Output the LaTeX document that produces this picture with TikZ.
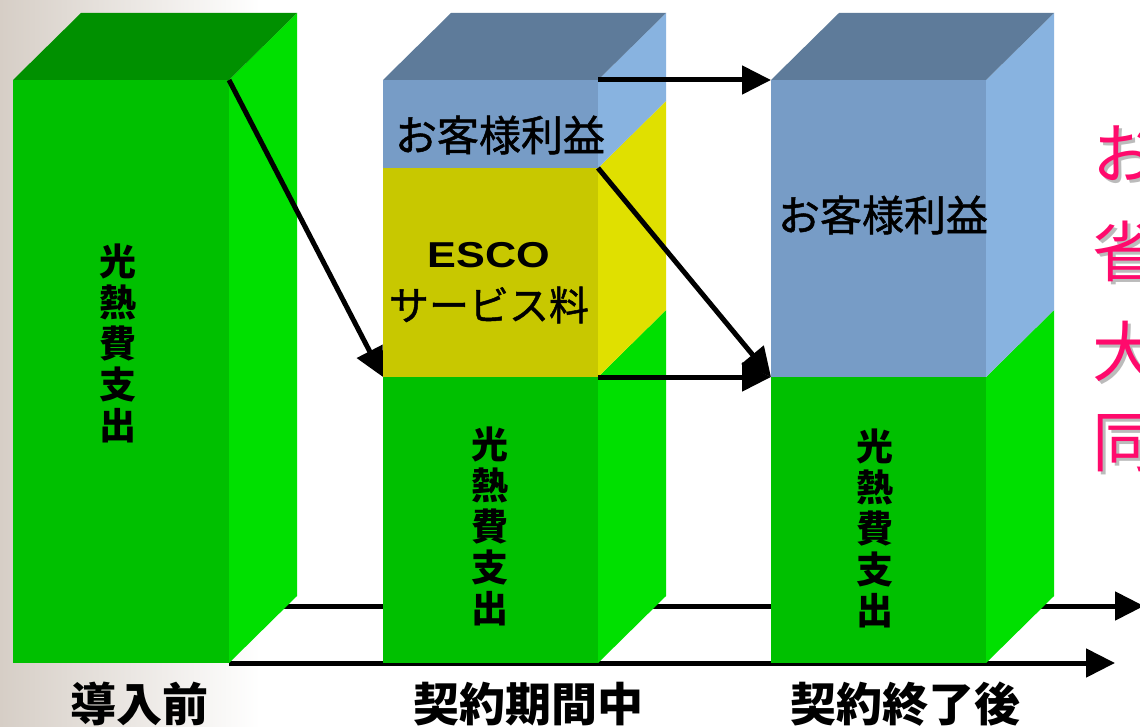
\documentclass[tikz,border=0pt]{standalone}
\usepackage{fontspec}
\setmainfont{Liberation Sans}
\newfontfamily\jp{Noto Sans CJK JP}
\newfontfamily\jpm{Noto Sans CJK JP}[FakeBold=1.2]
\usetikzlibrary{arrows.meta}
\definecolor{gFront}{HTML}{00C000}
\definecolor{gSide}{HTML}{00E000}
\definecolor{gTop}{HTML}{009000}
\definecolor{bFront}{HTML}{779CC6}
\definecolor{bSide}{HTML}{88B3E0}
\definecolor{bTop}{HTML}{5E7B9A}
\definecolor{yFront}{HTML}{C8C800}
\definecolor{ySide}{HTML}{E0E000}
\definecolor{bgLeft}{HTML}{D6CEC6}
\definecolor{pinkTxt}{HTML}{FF0A6C}
\definecolor{shadowTxt}{HTML}{BBBBBB}
\newcommand\mylayer[6]{%
  \fill[#6] (#3,#2) -- ({#3+68},{#2-67}) -- ({#3+68},{#4-67}) -- (#3,#4) -- cycle;
  \fill[#5] (#1,#2) rectangle (#3,#4);
}
\newcommand\mytop[4]{%
  \fill[#4] (#1,#2) -- ({#1+68},{#2-67}) -- ({#3+68},{#2-67}) -- (#3,#2) -- cycle;
}
\newcommand\shadowed[1]{\rlap{\hspace{3pt}\raisebox{-3pt}{\textcolor{shadowTxt}{#1}}}#1}
\begin{document}
\begin{tikzpicture}[x=1pt,y=-1pt,
  arr/.style={line width=5pt,-{Triangle[length=29pt,width=28pt]}},
  vtext/.style={align=center,inner sep=0pt,font=\jp\bfseries\fontsize{37}{41}\selectfont},
  boxtext/.style={align=center,inner sep=0pt,font=\jpm\fontsize{42}{50}\selectfont},
  svctext/.style={align=center,inner sep=0pt,font=\jpm\fontsize{40}{50}\selectfont},
  caption/.style={inner sep=0pt,font=\jp\bfseries\fontsize{46}{50}\selectfont},
  pinkchar/.style={anchor=west,inner sep=0pt,text=pinkTxt,font=\jp\fontsize{66}{70}\selectfont}]
\clip (0,0) rectangle (1140,727);
\fill[white] (0,0) rectangle (1140,727);
\fill[left color=bgLeft,right color=white] (0,0) rectangle (260,727);
% axes (behind the boxes)
\coordinate (axAs) at (229,663);
\coordinate (axAe) at (1115,663);
\coordinate (axBs) at (229,606);
\coordinate (axBe) at (1144,606);
\draw[arr] (axBs) -- (axBe);
\draw[arr] (axAs) -- (axAe);
% box 1
\mylayer{13}{80}{229}{663}{gFront}{gSide}
\mytop{13}{80}{229}{gTop}
% box 2
\mylayer{383}{377}{598}{663}{gFront}{gSide}
\mylayer{383}{168}{598}{377}{yFront}{ySide}
\mylayer{383}{80}{598}{168}{bFront}{bSide}
\mytop{383}{80}{598}{bTop}
% box 3
\mylayer{771}{377}{986}{663}{gFront}{gSide}
\mylayer{771}{80}{986}{377}{bFront}{bSide}
\mytop{771}{80}{986}{bTop}
% texts
\node[vtext] (t1) at (118,343) {光\\熱\\費\\支\\出};
\node[vtext] (t2) at (490,526) {光\\熱\\費\\支\\出};
\node[vtext] (t3) at (875,528) {光\\熱\\費\\支\\出};
\node[boxtext] (p2) at (500,135) {お客様利益};
\node[boxtext] (p3) at (883,215) {お客様利益};
\node[inner sep=0pt,xscale=1.2,font=\bfseries\fontsize{36}{40}\selectfont] (esco) at (489,255) {ESCO};
\node[svctext] (svc) at (489,305) {サービス料};
\node[caption] (c1) at (139,704) {導入前};
\node[caption] (c2) at (528,704) {契約期間中};
\node[caption] (c3) at (905,704) {契約終了後};
% pink text (cut off at the right edge)
\node[pinkchar] (k1) at (1092,155) {\shadowed{お}};
\node[pinkchar] (k2) at (1092,253) {\shadowed{省}};
\node[pinkchar] (k3) at (1092,353) {\shadowed{大}};
\node[pinkchar] (k4) at (1092,445) {\shadowed{同}};
% arrows
\coordinate (b1c) at (229,80);
\coordinate (b2g) at (383,377);
\coordinate (b2t) at (598,80);
\coordinate (b2m) at (598,168);
\coordinate (b2y) at (598,377);
\coordinate (b3t) at (771,80);
\coordinate (b3g) at (771,377);
\draw[arr] (b1c) -- (b2g);
\draw[arr] (b2t) -- (b3t);
\draw[arr] (b2m) -- (b3g);
\draw[arr] (b2y) -- (b3g);
\end{tikzpicture}
\end{document}
